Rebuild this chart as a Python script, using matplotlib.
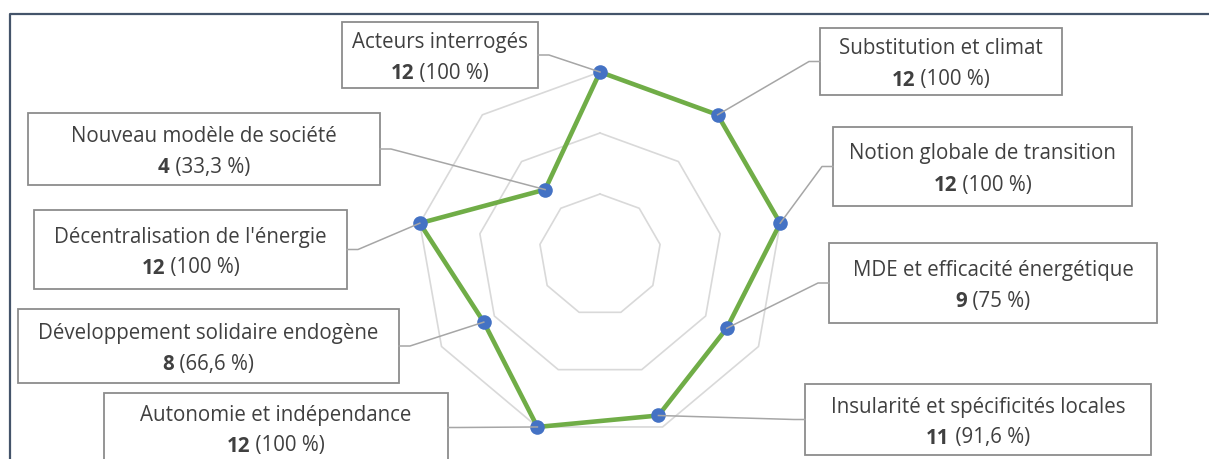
import matplotlib.pyplot as plt
from matplotlib.patches import Rectangle
from matplotlib.lines import Line2D
import numpy as np

categories = ["Acteurs interrogés", "Substitution et climat", "Notion globale de transition",
              "MDE et efficacité énergétique", "Insularité et spécificités locales",
              "Autonomie et indépendance", "Développement solidaire endogène",
              "Décentralisation de l'énergie", "Nouveau modèle de société"]
counts = [12, 12, 12, 9, 11, 12, 8, 12, 4]
percents = ["100 %", "100 %", "100 %", "75 %", "91,6 %", "100 %", "66,6 %", "100 %", "33,3 %"]
rings = [2, 7, 12]

# label boxes in pixels from the top-left corner: left, top, right, bottom, side of leader
boxes = [(342, 22, 538, 88, "r"),
         (820, 28, 1062, 95, "l"),
         (833, 127, 1132, 206, "l"),
         (829, 243, 1157, 323, "l"),
         (805, 384, 1151, 455, "l"),
         (104, 393, 448, 462, "r"),
         (18, 309, 399, 383, "r"),
         (34, 210, 347, 289, "r"),
         (28, 113, 380, 185, "r")]

W, H = 1209, 459
fig = plt.figure(figsize=(W / 100, H / 100), dpi=100)
plt.rcParams['font.family'] = ['Open Sans', 'DejaVu Sans']

def fx(x):
    return x / W

def fy(y):
    return 1 - y / H

# polar axes centred on (600, 255), radius 183 px
ax = fig.add_axes([fx(417), fy(255 + 183), 366 / W, 366 / H], projection='polar')
ax.set_theta_offset(np.pi / 2)
ax.set_theta_direction(-1)
ax.set_ylim(-3, 12)
ax.set_xticks([])
ax.set_yticks([])
ax.grid(False)
ax.spines['polar'].set_visible(False)
ax.patch.set_alpha(0)

n = len(categories)
theta = np.arange(n) * 2 * np.pi / n
tc = np.append(theta, theta[0])
for r in rings:
    ax.plot(tc, [r] * (n + 1), color='#d9d9d9', lw=1.2, zorder=1, clip_on=False)
ax.plot(tc, counts + [counts[0]], color='#70AD47', lw=3.3, zorder=3, clip_on=False)
ax.plot(theta, counts, 'o', color='#4472C4', ms=10.5, mec='none', zorder=4, clip_on=False)

# outer frame of the chart area
frame_col = '#44546A'
fig.add_artist(Line2D([fx(10), fx(10), fx(1230)], [fy(480), fy(14), fy(14)],
                      transform=fig.transFigure, color=frame_col, lw=1.6))

renderer = fig.canvas.get_renderer()
inv = fig.transFigure.inverted()
txt_col = '#404040'
fs = 14.8

for i, (l, t, rgt, b, side) in enumerate(boxes):
    fig.add_artist(Rectangle((fx(l), fy(b)), (rgt - l) / W, (b - t) / H,
                             transform=fig.transFigure, facecolor='white',
                             edgecolor='#8c8c8c', lw=1.3, zorder=2))
    cx = (l + rgt) / 2
    cy = (t + b) / 2
    fig.text(fx(cx), fy(cy - 7), categories[i], ha='center', va='baseline',
             fontsize=fs, color=txt_col, zorder=3)
    # second line: bold count + regular percentage
    t1 = fig.text(0, 0, str(counts[i]), fontsize=fs, fontweight='bold', color=txt_col)
    t2 = fig.text(0, 0, " (" + percents[i] + ")", fontsize=fs, color=txt_col)
    w1 = t1.get_window_extent(renderer).width
    w2 = t2.get_window_extent(renderer).width
    x0 = cx - (w1 + w2) / 2
    for tt, xx in ((t1, x0), (t2, x0 + w1)):
        tt.set_position((fx(xx), fy(cy + 24)))
        tt.set_va('baseline')
        tt.set_zorder(3)
    # leader line to the data point
    px, py = inv.transform(ax.transData.transform((theta[i], counts[i])))
    if side == "r":
        xs, xe = rgt, rgt + 11
    else:
        xs, xe = l, l - 11
    fig.add_artist(Line2D([fx(xs), fx(xe), px], [fy(cy), fy(cy), py],
                          transform=fig.transFigure, color='#a6a6a6', lw=1.1, zorder=5))

fig.savefig('out.png', dpi=100)
